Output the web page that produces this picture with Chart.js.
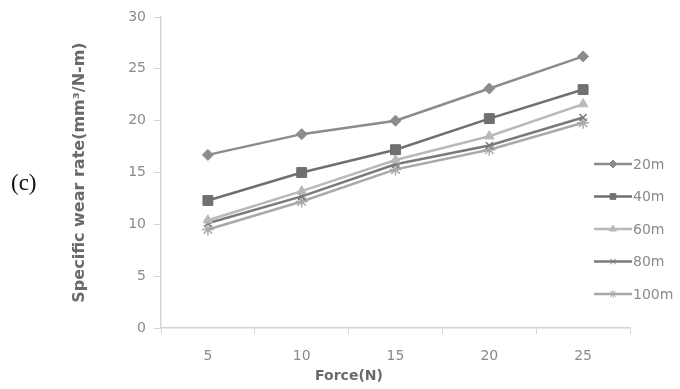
<!DOCTYPE html>
<html>
<head>
<meta charset="utf-8">
<script src="https://cdn.jsdelivr.net/npm/chart.js@4/dist/chart.umd.min.js"></script>
<style>
  html, body { margin: 0; padding: 0; background: #fff; }
  #wrap { width: 680px; height: 389px; position: relative; }
</style>
</head>
<body>
<div id="wrap"><canvas id="wearChart"></canvas></div>
<script>
// values
const forces = ['5', '10', '15', '20', '25'];
const seriesNames = ['20m', '40m', '60m', '80m', '100m'];
const wear20m = [16.7, 18.7, 20.0, 23.1, 26.2];
const wear40m = [12.3, 15.0, 17.2, 20.2, 23.0];
const wear60m = [10.4, 13.2, 16.2, 18.5, 21.6];
const wear80m = [10.1, 12.7, 15.8, 17.6, 20.3];
const wear100m = [9.5, 12.2, 15.3, 17.2, 19.8];
const yTicks = [0, 5, 10, 15, 20, 25, 30];

const tickColor = '#8a8a8a';
const axisColor = '#d4d4d4';

const mkSet = (label, data, color, style, radius) => ({
  label, data,
  borderColor: color,
  backgroundColor: color,
  borderWidth: 2.5,
  pointStyle: style,
  pointRadius: radius,
  pointBorderWidth: style === 'crossRot' || style === 'star' ? 1.5 : 1,
  pointBorderColor: color,
  pointBackgroundColor: color,
  tension: 0,
  fill: false
});

const datasets = [
  mkSet(seriesNames[0], wear20m, '#8c8c8c', 'rectRot', 5.5),
  mkSet(seriesNames[1], wear40m, '#707070', 'rect', 7),
  mkSet(seriesNames[2], wear60m, '#b9b9b9', 'triangle', 5.5),
  mkSet(seriesNames[3], wear80m, '#7a7a7a', 'crossRot', 5),
  mkSet(seriesNames[4], wear100m, '#a9a9a9', 'star', 6)
];

// legend on the right, line sample + marker like the original
const sideLegend = {
  id: 'sideLegend',
  afterDraw(chart) {
    const ctx = chart.ctx;
    ctx.save();
    ctx.font = '14px "DejaVu Sans"';
    ctx.textBaseline = 'middle';
    ctx.textAlign = 'left';
    chart.data.datasets.forEach((ds, i) => {
      const y = 164 + i * 32.5;
      ctx.strokeStyle = ds.borderColor;
      ctx.lineWidth = 2.5;
      ctx.beginPath();
      ctx.moveTo(594, y);
      ctx.lineTo(632, y);
      ctx.stroke();
      ctx.fillStyle = ds.backgroundColor;
      ctx.lineWidth = 1;
      Chart.helpers.drawPoint(ctx, {
        pointStyle: ds.pointStyle, radius: 4, rotation: 0, borderWidth: 1
      }, 613, y);
      ctx.fillStyle = tickColor;
      ctx.fillText(ds.label, 633, y + 1);
    });
    ctx.restore();
  }
};

// "(c)" panel tag and the x-axis title, placed as in the figure
const extraText = {
  id: 'extraText',
  afterDraw(chart) {
    const ctx = chart.ctx;
    ctx.save();
    ctx.fillStyle = '#111';
    ctx.font = '23px "Liberation Serif"';
    ctx.textBaseline = 'middle';
    ctx.textAlign = 'left';
    ctx.fillText('(c)', 11, 184);
    ctx.fillStyle = '#6a6a6a';
    ctx.font = 'bold 14px "DejaVu Sans"';
    ctx.textAlign = 'center';
    ctx.fillText('Force(N)', 349, 376);
    ctx.restore();
  }
};

new Chart('wearChart', {
  type: 'line',
  data: { labels: forces, datasets },
  options: {
    responsive: true,
    maintainAspectRatio: false,
    animation: false,
    layout: { padding: { left: 0, top: 17, right: 50, bottom: 0 } },
    plugins: { legend: { display: false }, tooltip: { enabled: false } },
    scales: {
      x: {
        type: 'category',
        offset: true,
        afterFit(scale) { scale.height = 61; },
        grid: { offset: true, drawOnChartArea: false, tickLength: 6, color: axisColor },
        border: { color: axisColor, width: 1.5 },
        ticks: { color: tickColor, padding: 14, font: { family: 'DejaVu Sans', size: 14 } }
      },
      y: {
        min: 0,
        max: 30,
        afterFit(scale) { scale.width = 161; },
        afterBuildTicks(scale) { scale.ticks = yTicks.map(v => ({ value: v })); },
        grid: { drawOnChartArea: false, tickLength: 7, color: axisColor },
        border: { color: axisColor, width: 1.5 },
        ticks: { color: tickColor, padding: 8, font: { family: 'DejaVu Sans', size: 14 } },
        title: {
          display: true,
          text: 'Specific wear rate(mm³/N-m)',
          color: '#6a6a6a',
          font: { family: 'DejaVu Sans', size: 16, weight: 'bold' },
          padding: { top: 70, bottom: 0 }
        }
      }
    }
  },
  plugins: [sideLegend, extraText]
});
</script>
</body>
</html>
